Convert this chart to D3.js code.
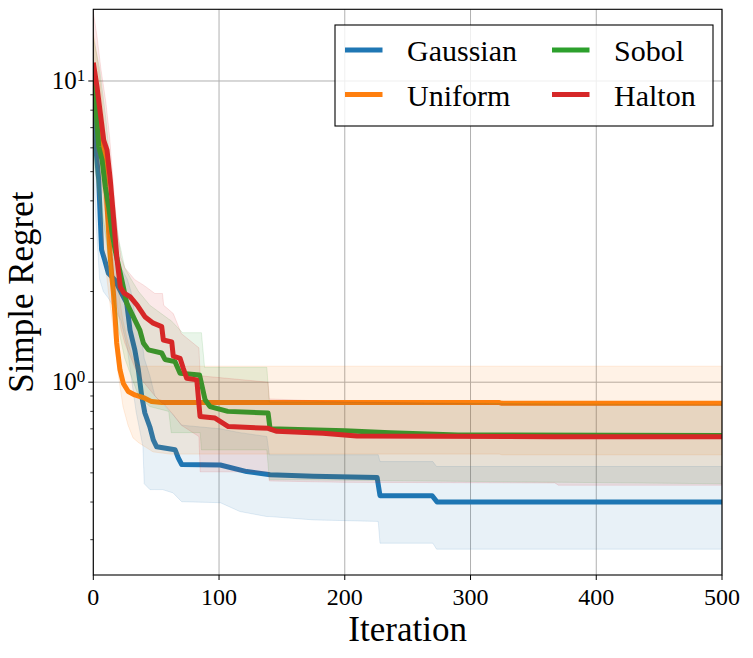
<!DOCTYPE html>
<html><head><meta charset="utf-8">
<script src="https://cdn.jsdelivr.net/npm/d3@7"></script>
<style>body{margin:0;background:#fff}svg{display:block}</style>
</head><body>
<svg id="c" width="753" height="658"></svg>
<script>
// ---------- data ----------
const seriesNames = ["Gaussian", "Uniform", "Sobol", "Halton"];
const xTickValues = [0, 100, 200, 300, 400, 500];
const yMajorValues = [1, 10];
const yMinorValues = [0.3, 0.4, 0.5, 0.6, 0.7, 0.8, 0.9, 2, 3, 4, 5, 6, 7, 8, 9];
const xLabel = "Iteration";
const yLabel = "Simple Regret";

// mean curves: [iteration, regret]
const gaussianMean = [[0,9.0],[1,7.2],[2,6.0],[4.3,4.7],[5.6,3.46],[6.6,2.75],[9,2.55],[12,2.3],[17,2.19],[22.6,1.97],[26.6,1.83],[29.2,1.49],[33,1.28],[35.8,1.10],[38.5,0.90],[41,0.79],[45,0.71],[47.7,0.643],[50.4,0.61],[65,0.597],[67.6,0.56],[70.3,0.533],[101,0.531],[122,0.505],[140.6,0.493],[175,0.487],[225.7,0.483],[228,0.42],[269.5,0.42],[273.4,0.40],[500,0.40]];
const uniformMean = [[0,10.5],[3,8.5],[6,7.0],[8.3,5.77],[9.5,4.82],[11,3.83],[12.2,3.13],[13.5,2.6],[14.9,2.2],[15.9,2.0],[17.3,1.65],[18.6,1.35],[21.2,1.10],[23.9,0.99],[27.8,0.931],[33,0.907],[41,0.885],[46.4,0.862],[54.4,0.856],[323,0.856],[325,0.851],[500,0.851]];
const sobolMean = [[0,10.0],[1.6,8.65],[4.3,6.06],[7,5.46],[9.5,4.46],[12.2,3.83],[14.9,3.13],[17.3,2.75],[22.6,2.19],[26.6,1.83],[33,1.61],[37,1.49],[39.8,1.35],[43.8,1.28],[54.4,1.25],[57,1.19],[65,1.17],[69,1.07],[84.5,1.057],[88.9,0.874],[92.8,0.83],[107,0.80],[139,0.79],[140.6,0.70],[200,0.69],[236,0.68],[290,0.668],[500,0.665]];
const haltonMean = [[0,11.5],[2.9,9.6],[5.6,7.8],[8.3,6.36],[10.9,5.9],[13.5,4.69],[16.2,3.46],[18.9,2.55],[21.5,2.07],[24.2,1.98],[29.4,1.92],[35,1.80],[41,1.65],[47.7,1.57],[54.4,1.53],[55.7,1.38],[62.4,1.36],[63.6,1.22],[69,1.20],[71.6,1.11],[74.3,1.03],[82.3,1.018],[84.9,0.769],[96.8,0.76],[107.4,0.712],[139,0.703],[146,0.687],[182.7,0.677],[209.5,0.663],[367,0.659],[500,0.659]];

// uncertainty bands: [iteration, lower, upper]
const gaussianBand = [[0,5.0,12],[2,3.5,9],[5,2.2,5.0],[8,2.0,3.5],[12,1.9,2.8],[17,1.75,2.6],[22,1.6,2.4],[27,1.3,2.2],[30,1.05,2.0],[34,0.8,1.6],[39.5,0.61,1.3],[40.5,0.46,1.2],[45,0.44,1.05],[49,0.44,0.9],[55,0.44,0.85],[63.4,0.429,0.78],[70.3,0.401,0.72],[101,0.398,0.70],[116.6,0.372,0.68],[138,0.358,0.66],[140,0.358,0.574],[175,0.349,0.574],[226.6,0.345,0.574],[228,0.292,0.545],[270,0.292,0.545],[273,0.279,0.525],[500,0.279,0.525]];
const uniformBand = [[0,6.0,14.5],[3,4.5,12],[6,3.5,9.5],[9,2.6,7.0],[12,2.0,5.0],[15,1.6,3.5],[17.5,1.3,2.6],[20,1.05,2.0],[23.6,0.83,1.6],[27.6,0.72,1.35],[31.6,0.653,1.2],[36,0.63,1.13],[47.5,0.587,1.13],[61,0.577,1.13],[323,0.577,1.13],[325,0.574,1.13],[500,0.574,1.13]];
const sobolBand = [[0,5.5,14],[5,4.0,11],[10,3.0,7.5],[15,2.0,4.5],[20,1.5,3.0],[25,1.2,2.4],[30,1.05,2.2],[36,0.9,2.0],[45,0.83,1.8],[60,0.80,1.62],[62,0.68,1.6],[71,0.68,1.46],[85,0.68,1.46],[86,0.596,1.46],[88.5,0.596,1.12],[138,0.596,1.12],[140,0.475,0.86],[500,0.46,0.84]];
const haltonBand = [[0,6.5,17],[3,5.5,14],[6,4.8,11],[10,3.5,8.5],[13,2.9,6.5],[16,2.3,4.5],[19,1.8,3.2],[22,1.5,2.6],[25,1.35,2.4],[33,1.12,2.19],[40,1.0,2.1],[49,0.9,1.97],[55,0.85,1.97],[56,0.85,1.8],[63.6,0.78,1.69],[70,0.72,1.45],[84,0.66,1.3],[85,0.504,1.05],[139,0.504,1.0],[140,0.47,0.88],[200,0.465,0.86],[367,0.463,0.84],[370,0.455,0.84],[500,0.455,0.84]];

const seriesColors = ["#1f77b4", "#ff7f0e", "#2ca02c", "#d62728"];

// ---------- layout ----------
const L = 93.3, R = 722, T = 9.3, B = 575;
const FONT = "'Liberation Serif', 'DejaVu Serif', serif";
const svg = d3.select("#c");
const x = d3.scaleLinear().domain([0, 500]).range([L, R]);
const y = d3.scaleLog().domain([0.229, 17.3]).range([B, T]);

svg.append("defs").append("clipPath").attr("id", "clip")
  .append("rect").attr("x", L).attr("y", T).attr("width", R - L).attr("height", B - T);

// grid
const grid = svg.append("g").attr("stroke", "#b0b0b0").attr("stroke-width", 1);
xTickValues.forEach(v => grid.append("line").attr("x1", x(v)).attr("x2", x(v)).attr("y1", T).attr("y2", B));
yMajorValues.forEach(v => grid.append("line").attr("x1", L).attr("x2", R).attr("y1", y(v)).attr("y2", y(v)));

// data
const plot = svg.append("g").attr("clip-path", "url(#clip)");
const means = [gaussianMean, uniformMean, sobolMean, haltonMean];
const bands = [gaussianBand, uniformBand, sobolBand, haltonBand];
const line = d3.line().x(d => x(d[0])).y(d => y(d[1]));
const area = d3.area().x(d => x(d[0])).y0(d => y(d[1])).y1(d => y(d[2]));
means.forEach((m, i) => {
  plot.append("path").attr("d", line(m)).attr("fill", "none")
    .attr("stroke", seriesColors[i]).attr("stroke-width", 5)
    .attr("stroke-linejoin", "round").attr("stroke-linecap", "butt");
  plot.append("path").attr("d", area(bands[i]))
    .attr("fill", seriesColors[i]).attr("fill-opacity", 0.1)
    .attr("stroke", seriesColors[i]).attr("stroke-opacity", 0.12).attr("stroke-width", 1);
});

// spines
svg.append("rect").attr("x", L).attr("y", T).attr("width", R - L).attr("height", B - T)
  .attr("fill", "none").attr("stroke", "#000").attr("stroke-width", 1.1);

// x axis ticks & labels
const xa = svg.append("g");
xTickValues.forEach(v => {
  xa.append("line").attr("x1", x(v)).attr("x2", x(v)).attr("y1", B).attr("y2", B + 5)
    .attr("stroke", "#000").attr("stroke-width", 1);
  xa.append("text").attr("x", x(v)).attr("y", 605).attr("text-anchor", "middle")
    .attr("font-family", FONT).attr("font-size", 24).text(v);
});

// y axis ticks & labels
const ya = svg.append("g");
yMajorValues.forEach(v => {
  ya.append("line").attr("x1", L - 5).attr("x2", L).attr("y1", y(v)).attr("y2", y(v))
    .attr("stroke", "#000").attr("stroke-width", 1);
  const t = ya.append("text").attr("x", L - 8).attr("y", y(v) + 8).attr("text-anchor", "end")
    .attr("font-family", FONT).attr("font-size", 25);
  t.append("tspan").text("10");
  t.append("tspan").attr("font-size", 17).attr("dy", -8).text(Math.round(Math.log10(v)));
});
yMinorValues.forEach(v => {
  ya.append("line").attr("x1", L - 3).attr("x2", L).attr("y1", y(v)).attr("y2", y(v))
    .attr("stroke", "#000").attr("stroke-width", 0.8);
});

// axis labels
svg.append("text").attr("x", (L + R) / 2).attr("y", 641).attr("text-anchor", "middle")
  .attr("font-family", FONT).attr("font-size", 35).text(xLabel);
svg.append("text").attr("transform", `translate(33,${(T + B) / 2}) rotate(-90)`)
  .attr("text-anchor", "middle").attr("font-family", FONT).attr("font-size", 35).text(yLabel);

// legend
const lg = svg.append("g");
lg.append("rect").attr("x", 335).attr("y", 25).attr("width", 378).attr("height", 101)
  .attr("fill", "#fff").attr("fill-opacity", 0.8).attr("stroke", "#000").attr("stroke-width", 1.1);
const colX = [345, 552], rowY = [50, 94.5];
seriesNames.forEach((name, i) => {
  const cx = colX[Math.floor(i / 2)], cy = rowY[i % 2];
  lg.append("line").attr("x1", cx).attr("x2", cx + 37.5).attr("y1", cy).attr("y2", cy)
    .attr("stroke", seriesColors[i]).attr("stroke-width", 5);
  lg.append("text").attr("x", cx + 62).attr("y", cy + 11).attr("font-family", FONT)
    .attr("font-size", 30).text(name);
});
</script>
</body></html>
